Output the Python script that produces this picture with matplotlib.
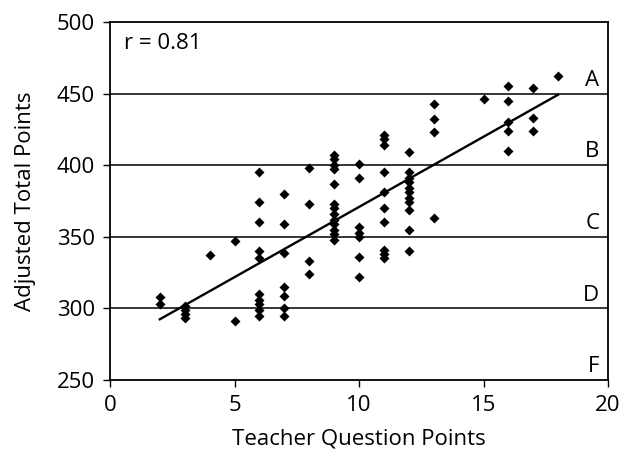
import matplotlib
matplotlib.use("Agg")
import matplotlib.pyplot as plt
import numpy as np

plt.rcParams['font.family'] = ['Open Sans', 'DejaVu Sans']

# Data: teacher question points (x) and adjusted total points (y)
x_vals = [2, 2,
          3, 3, 3, 3,
          4,
          5, 5,
          6, 6, 6, 6, 6, 6, 6, 6, 6, 6,
          7, 7, 7, 7, 7, 7, 7,
          8, 8, 8, 8,
          9, 9, 9, 9, 9, 9, 9, 9, 9, 9, 9, 9, 9,
          10, 10, 10, 10, 10, 10, 10,
          11, 11, 11, 11, 11, 11, 11, 11, 11, 11,
          12, 12, 12, 12, 12, 12, 12, 12, 12, 12, 12,
          13, 13, 13, 13,
          15,
          16, 16, 16, 16, 16,
          17, 17, 17,
          18]
y_vals = [308, 303,
          302, 299, 296, 293,
          337,
          347, 291,
          395, 374, 360, 340, 335, 310, 306, 303, 299, 295,
          380, 359, 339, 315, 309, 300, 295,
          398, 373, 333, 324,
          407, 404, 400, 397, 387, 373, 370, 366, 362, 359, 355, 352, 348,
          401, 391, 357, 353, 350, 336, 322,
          421, 418, 414, 395, 381, 370, 360, 341, 338, 335,
          409, 395, 391, 388, 384, 381, 377, 374, 369, 355, 340,
          443, 432, 423, 363,
          446,
          455, 445, 430, 424, 410,
          454, 433, 424,
          462]

grade_cutoffs = [450, 400, 350, 300, 250]
grade_letters = ['A', 'B', 'C', 'D', 'F']
r_label = "r = 0.81"

x = np.array(x_vals, dtype=float)
y = np.array(y_vals, dtype=float)

fig = plt.figure(figsize=(6.23, 4.53), dpi=100)
ax = fig.add_axes([110/623, 1-380/453, 498/623, 358/453])

for c in grade_cutoffs[:-1]:
    ax.axhline(c, color='black', lw=1.1, zorder=1)

ax.scatter(x, y, marker='D', s=26, color='black', zorder=3, linewidths=0)

slope, intercept = np.polyfit(x, y, 1)
xl = np.array([x.min(), x.max()])
ax.plot(xl, slope*xl + intercept, color='black', lw=1.7, zorder=2)

for c, g in zip(grade_cutoffs, grade_letters):
    ax.text(19.65, c + 2, g, ha='right', va='bottom', fontsize=16)

ax.text(0.55, 485, r_label, ha='left', va='center', fontsize=16)

ax.set_xlim(0, 20)
ax.set_ylim(250, 500)
ax.set_xticks([0, 5, 10, 15, 20])
ax.set_yticks([250, 300, 350, 400, 450, 500])
ax.tick_params(direction='out', length=5, width=1, labelsize=16, pad=6)
for s in ax.spines.values():
    s.set_linewidth(1.3)
ax.set_xlabel("Teacher Question Points", fontsize=16, labelpad=9)
ax.set_ylabel("Adjusted Total Points", fontsize=16, labelpad=15)

fig.savefig("out.png", dpi=100)
